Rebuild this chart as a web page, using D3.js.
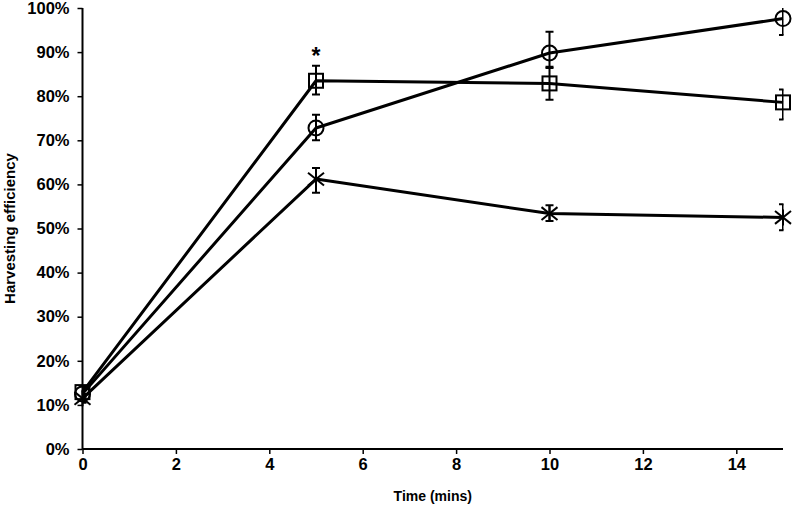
<!DOCTYPE html>
<html><head><meta charset="utf-8">
<script src="https://cdn.jsdelivr.net/npm/d3@7"></script>
<style>body{margin:0;background:#fff}svg{display:block}text{font-family:"Liberation Sans",Arial,sans-serif;font-weight:bold;fill:#000}</style>
</head><body>
<svg id="c" width="792" height="511"></svg>
<script>
const times = [0, 5, 10, 15];
const circleVals = [12.5, 72.8, 89.8, 97.6];
const circleLo = [11.5, 70.0, 86.7, 93.9];
const circleHi = [13.5, 75.8, 94.6, 101.0];
const squareVals = [12.9, 83.5, 82.9, 78.6];
const squareLo = [11.9, 80.4, 79.2, 74.7];
const squareHi = [13.9, 86.9, 86.4, 81.5];
const starVals = [11.5, 61.2, 53.4, 52.5];
const starLo = [10.5, 58.1, 51.7, 49.6];
const starHi = [12.5, 63.7, 55.3, 55.5];
const xTicks = [0, 2, 4, 6, 8, 10, 12, 14];
const yTicks = [0, 10, 20, 30, 40, 50, 60, 70, 80, 90, 100];

const svg = d3.select("#c");
const x = d3.scaleLinear().domain([0, 15]).range([82.5, 783]);
const y = d3.scaleLinear().domain([0, 100]).range([449, 8]);

svg.append("defs").append("clipPath").attr("id","pc")
  .append("rect").attr("x", x(0)).attr("y", y(100)).attr("width", x(15)-x(0)+0.5).attr("height", y(0)-y(100));

// axes
const gx = svg.append("g").attr("transform", `translate(0,${y(0)})`)
  .call(d3.axisBottom(x).tickValues(xTicks).tickSize(5).tickPadding(4).tickFormat(d3.format("d")));
const gy = svg.append("g").attr("transform", `translate(${x(0)},0)`)
  .call(d3.axisLeft(y).tickValues(yTicks).tickSize(5).tickPadding(8).tickFormat(d => d + "%"));
[gx, gy].forEach(g => {
  g.selectAll(".domain").attr("stroke", "#000").attr("stroke-width", 2);
  g.selectAll(".tick line").attr("stroke", "#000").attr("stroke-width", 1.5);
  g.selectAll("text").style("font-size", "16.5px").style("font-family", '"Liberation Sans",Arial,sans-serif').style("font-weight", "bold");
});
gx.select(".domain").attr("d", `M${x(0)},0H${x(15)}`);
gy.select(".domain").attr("d", `M0,${y(0)}V${y(100)}`);

const series = [
  {v: circleVals, lo: circleLo, hi: circleHi, m: "circle"},
  {v: squareVals, lo: squareLo, hi: squareHi, m: "square"},
  {v: starVals, lo: starLo, hi: starHi, m: "star"}
];
const line = d3.line().x((d, i) => x(times[i])).y(d => y(d));

series.forEach(s => {
  svg.append("path").datum(s.v).attr("d", line).attr("fill", "none")
    .attr("stroke", "#000").attr("stroke-width", 3).attr("stroke-linejoin", "round");
});

series.forEach(s => {
  const eb = svg.append("g").attr("clip-path", "url(#pc)").attr("stroke", "#000").attr("stroke-width", 2);
  times.forEach((t, i) => {
    const cx = x(t);
    eb.append("line").attr("x1", cx).attr("x2", cx).attr("y1", y(s.lo[i])).attr("y2", y(s.hi[i]));
    eb.append("line").attr("x1", cx-4).attr("x2", cx+4).attr("y1", y(s.lo[i])).attr("y2", y(s.lo[i]));
    eb.append("line").attr("x1", cx-4).attr("x2", cx+4).attr("y1", y(s.hi[i])).attr("y2", y(s.hi[i]));
  });
});

series.forEach(s => {
  const g = svg.append("g").attr("stroke", "#000").attr("stroke-width", 2).attr("fill", "none");
  s.v.forEach((v, i) => {
    const cx = x(times[i]), cy = y(v);
    if (s.m === "circle") g.append("circle").attr("cx", cx).attr("cy", cy).attr("r", 7.5);
    else if (s.m === "square") g.append("rect").attr("x", cx-7).attr("y", cy-7).attr("width", 14).attr("height", 14);
    else {
      const r = 8;
      g.append("line").attr("x1", cx-r).attr("y1", cy-r*0.8).attr("x2", cx+r).attr("y2", cy+r*0.8);
      g.append("line").attr("x1", cx-r).attr("y1", cy+r*0.8).attr("x2", cx+r).attr("y2", cy-r*0.8);
      g.append("line").attr("x1", cx).attr("y1", cy-r).attr("x2", cx).attr("y2", cy+r);
    }
  });
});

// significance mark
svg.append("text").attr("x", x(5)).attr("y", y(squareHi[1]) - 2).attr("text-anchor", "middle")
  .style("font-size", "23px").text("*");

svg.append("text").attr("x", (x(0)+x(15))/2).attr("y", 501).attr("text-anchor", "middle")
  .style("font-size", "14px").text("Time (mins)");
svg.append("text").attr("transform", `translate(15,${y(50)}) rotate(-90)`).attr("text-anchor", "middle")
  .style("font-size", "15px").text("Harvesting efficiency");
</script>
</body></html>
